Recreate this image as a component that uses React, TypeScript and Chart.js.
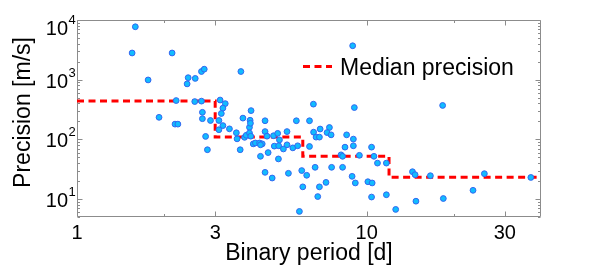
import React, { useEffect, useRef } from "react";
import { Chart, registerables } from "chart.js";

Chart.register(...registerables);

// ---------------- data ----------------
const periods = [
  1.59, 1.55, 2.13, 1.76, 2.42, 2.4, 2.56, 2.69, 2.75, 3.68,
  2.2, 2.55, 2.69, 3.12, 3.25, 3.19, 3.15, 3.99, 2.71, 2.71,
  1.92, 2.89, 3.09, 3.74, 3.96, 4.46, 2.18, 2.23, 3.19, 3.36,
  3.94, 3.97, 3.09, 2.78, 2.82, 3.55, 3.57, 3.66, 3.79, 3.84,
  3.94, 3.98, 4.06, 4.13, 4.27, 4.36, 4.3, 4.3, 4.46, 4.53,
  4.57, 4.46, 4.77, 4.93, 5.0, 4.8, 4.97, 5.16, 5.31, 5.31,
  5.56, 5.78, 5.72, 6.35, 6.55, 6.56, 6.35, 6.69, 6.87, 6.91,
  7.44, 7.3, 7.54, 8.53, 9.07, 9.0, 9.0, 8.42, 8.16, 8.26,
  9.44, 10.4, 10.6, 10.9, 4.72, 4.96, 5.37, 5.97, 6.21, 6.02,
  6.64, 6.87, 7.24, 7.57, 6.78, 8.26, 8.91, 9.14, 10.1, 10.45,
  10.4, 11.7, 11.7, 12.6, 14.4, 14.7, 14.8, 5.86, 16.6, 18.3,
  18.4, 23.3, 25.5, 36.9, 8.95,
];
const precisions = [
  7700, 2800, 2800, 990, 1080, 850, 1050, 1370, 1500, 1370,
  447, 430, 437, 456, 397, 334, 271, 303, 284, 222,
  234, 207, 207, 227, 209, 205, 180, 180, 170, 150,
  159, 186, 145, 112, 67, 129, 102, 67, 108, 117,
  128, 113, 84, 87, 87, 84, 81, 52, 135, 113,
  60, 28, 115, 126, 98, 77, 78, 69, 81, 135,
  72, 78, 205, 205, 389, 132, 76, 109, 109, 149,
  158, 130, 119, 119, 341, 101, 78, 74, 55, 52,
  54, 74, 52, 40, 22.5, 47, 27, 30, 25, 16,
  34, 16, 19, 34, 11, 34, 24, 18.6, 19.5, 18.6,
  10.8, 11.8, 40, 6.7, 28.7, 25.6, 9.2, 6.2, 24.6, 370,
  10.2, 14, 26.6, 23, 3700,
];
const medianEdges = [1, 3.0, 6.02, 11.95, 38.8];
const medianLevels = [440, 109, 52, 23.1, 23.1];

const xTickValues = [1, 3, 10, 30];
const xMinorTickValues = [2, 20];
const yTickExponents = [1, 2, 3, 4];
const xLimits = [1, 40];
const yLimits = [5, 10000];

const xTitle = "Binary period [d]";
const yTitle = "Precision [m/s]";
const legendLabel = "Median precision";

// ---------------- style ----------------
const FONT = '"Liberation Sans", Arial, Helvetica, sans-serif';
const AXIS_COLOR = "#8c8c8c";

const framePlugin = {
  id: "frame",
  beforeDatasetsDraw(chart: any) {
    const { ctx, chartArea: a, scales } = chart;
    const xs = scales.x;
    const ys = scales.y;
    ctx.save();
    ctx.strokeStyle = AXIS_COLOR;
    ctx.lineWidth = 1;
    const L = Math.round(a.left) + 0.5;
    const R = Math.round(a.right) - 0.5;
    const T = Math.round(a.top) + 0.5;
    const B = Math.round(a.bottom) - 0.5;
    ctx.beginPath();
    ctx.rect(L, T, R - L, B - T);
    ctx.stroke();

    const xTick = (v: number, len: number) => {
      const p = Math.round(xs.getPixelForValue(v)) + 0.5;
      ctx.moveTo(p, B);
      ctx.lineTo(p, B - len);
      ctx.moveTo(p, T);
      ctx.lineTo(p, T + len);
    };
    const yTick = (v: number, len: number) => {
      const p = Math.round(ys.getPixelForValue(v)) + 0.5;
      ctx.moveTo(L, p);
      ctx.lineTo(L + len, p);
      ctx.moveTo(R, p);
      ctx.lineTo(R - len, p);
    };
    ctx.beginPath();
    xTickValues.forEach((v) => xTick(v, 5));
    xMinorTickValues.forEach((v) => xTick(v, 2.5));
    yTickExponents.forEach((e) => yTick(Math.pow(10, e), 5));
    for (let e = 0; e < 4; e++) {
      for (let m = 2; m <= 9; m++) {
        const v = m * Math.pow(10, e);
        if (v >= yLimits[0] && v <= yLimits[1]) yTick(v, 2.5);
      }
    }
    ctx.stroke();
    ctx.restore();
  },
  afterDraw(chart: any) {
    const { ctx, chartArea: a, scales } = chart;
    const ys = scales.y;
    ctx.save();
    ctx.fillStyle = "#000";
    // y tick labels 10^n
    yTickExponents.forEach((e) => {
      const p = ys.getPixelForValue(Math.pow(10, e));
      const base = Math.max(p + 8, 35);
      ctx.font = `20px ${FONT}`;
      ctx.textAlign = "right";
      ctx.textBaseline = "alphabetic";
      ctx.fillText("10", a.left - 9, base);
      ctx.font = `13px ${FONT}`;
      ctx.textAlign = "left";
      ctx.fillText(String(e), a.left - 8.5, base - 11);
    });
    // y title
    ctx.save();
    ctx.translate(24, (a.top + a.bottom) / 2 - 6);
    ctx.rotate(-Math.PI / 2);
    ctx.font = `23px ${FONT}`;
    ctx.textAlign = "center";
    ctx.textBaseline = "middle";
    ctx.fillText(yTitle, 0, 0);
    ctx.restore();
    // legend
    const ds = chart.data.datasets.find((d: any) => d.label === legendLabel);
    if (ds) {
      const lx = a.left + 226;
      const ly = a.top + 46.5;
      ctx.strokeStyle = ds.borderColor;
      ctx.lineWidth = ds.borderWidth;
      ctx.setLineDash(ds.borderDash);
      ctx.beginPath();
      ctx.moveTo(lx, ly);
      ctx.lineTo(lx + 29, ly);
      ctx.stroke();
      ctx.setLineDash([]);
      ctx.font = `23px ${FONT}`;
      ctx.textAlign = "left";
      ctx.textBaseline = "alphabetic";
      ctx.fillText(ds.label, lx + 37, ly + 8);
    }
    ctx.restore();
  },
};

export default function App() {
  const canvasRef = useRef<HTMLCanvasElement | null>(null);

  useEffect(() => {
    const canvas = canvasRef.current;
    if (!canvas) return;
    const scatter = periods.map((x, i) => ({ x, y: precisions[i] }));
    const median = medianEdges.map((x, i) => ({ x, y: medianLevels[i] }));
    const chart = new Chart(canvas, {
      type: "scatter",
      data: {
        datasets: [
          {
            type: "scatter",
            label: "Stars",
            data: scatter,
            backgroundColor: "#10bcff",
            borderColor: "#3366f0",
            borderWidth: 1,
            pointRadius: 2.9,
            order: 0,
          },
          {
            type: "line",
            label: legendLabel,
            data: median,
            stepped: "before",
            borderColor: "#ff0000",
            borderWidth: 3,
            borderDash: [7, 4.5],
            pointRadius: 0,
            fill: false,
            order: 1,
          } as any,
        ],
      },
      options: {
        responsive: false,
        animation: false,
        devicePixelRatio: 1,
        layout: { padding: { left: 0, top: 20, right: 57, bottom: 0 } },
        plugins: {
          legend: { display: false },
          tooltip: { enabled: false },
        },
        scales: {
          x: {
            type: "logarithmic",
            position: "bottom",
            min: xLimits[0],
            max: xLimits[1],
            grid: { display: false, drawTicks: false },
            border: { display: false },
            ticks: {
              autoSkip: false,
              maxRotation: 0,
              padding: 4,
              color: "#000",
              font: { family: FONT, size: 20 },
              callback: (v: any) => String(v),
            },
            afterBuildTicks: (s: any) => {
              s.ticks = xTickValues.map((v) => ({ value: v }));
            },
            afterFit: (s: any) => {
              s.height = 50;
            },
            title: {
              display: true,
              text: xTitle,
              color: "#000",
              font: { family: FONT, size: 23 },
              padding: { top: 0, bottom: 0 },
            },
          },
          y: {
            type: "logarithmic",
            position: "left",
            min: yLimits[0],
            max: yLimits[1],
            grid: { display: false, drawTicks: false },
            border: { display: false },
            ticks: { display: false },
            afterBuildTicks: (s: any) => {
              s.ticks = yTickExponents.map((e) => ({ value: Math.pow(10, e) }));
            },
            afterFit: (s: any) => {
              s.width = 77;
            },
          },
        },
      } as any,
      plugins: [framePlugin],
    });
    return () => chart.destroy();
  }, []);

  return (
    <div style={{ position: "fixed", left: 0, top: 0, width: 598, height: 267, background: "#fff" }}>
      <canvas ref={canvasRef} width={598} height={267} style={{ display: "block", width: 598, height: 267 }} />
    </div>
  );
}
